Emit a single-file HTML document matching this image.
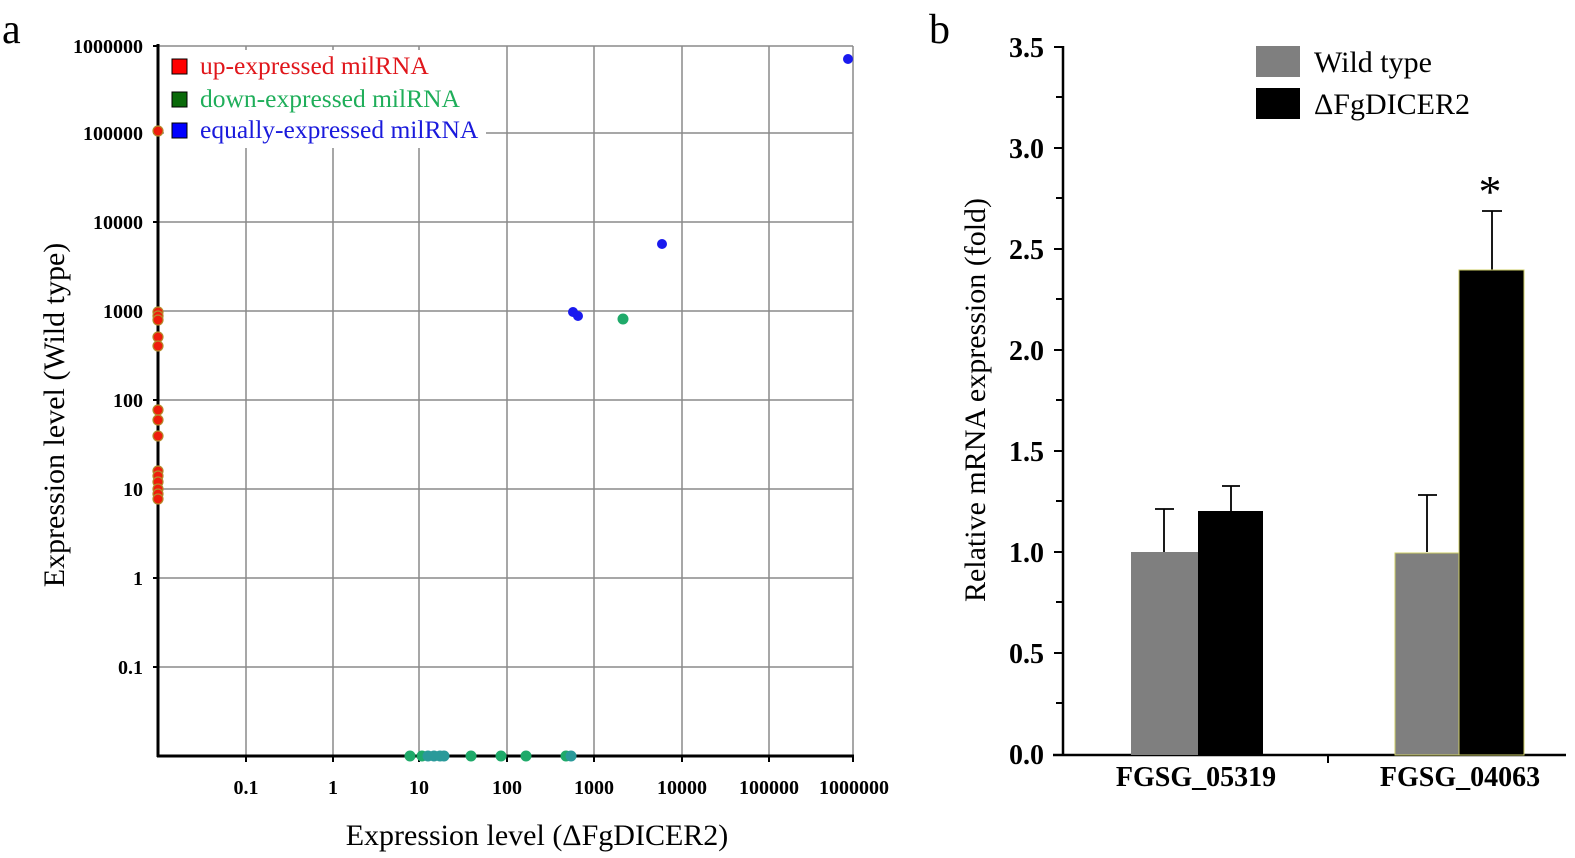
<!DOCTYPE html>
<html><head><meta charset="utf-8"><style>
html,body{margin:0;padding:0;background:#fff;}
svg{display:block;font-family:"Liberation Serif",serif;}
.tk{font-weight:bold;font-size:20px;fill:#000;}
.tkb{font-weight:bold;font-size:28px;fill:#000;}
</style></head><body>
<svg width="1575" height="858" viewBox="0 0 1575 858" xmlns="http://www.w3.org/2000/svg">
<text x="2" y="43" font-size="42">a</text>
<text x="929" y="43" font-size="42">b</text>
<g stroke="#8a8a8a" stroke-width="1.5">
<line x1="158" y1="46" x2="853" y2="46"/>
<line x1="158" y1="133" x2="853" y2="133"/>
<line x1="158" y1="222" x2="853" y2="222"/>
<line x1="158" y1="311" x2="853" y2="311"/>
<line x1="158" y1="400" x2="853" y2="400"/>
<line x1="158" y1="489" x2="853" y2="489"/>
<line x1="158" y1="578" x2="853" y2="578"/>
<line x1="158" y1="667" x2="853" y2="667"/>
<line x1="246" y1="46" x2="246" y2="756"/>
<line x1="333" y1="46" x2="333" y2="756"/>
<line x1="419" y1="46" x2="419" y2="756"/>
<line x1="507" y1="46" x2="507" y2="756"/>
<line x1="594" y1="46" x2="594" y2="756"/>
<line x1="682" y1="46" x2="682" y2="756"/>
<line x1="769" y1="46" x2="769" y2="756"/>
<line x1="853" y1="46" x2="853" y2="756"/>
</g>
<rect x="164" y="50" width="322" height="98" fill="#fff"/>
<g stroke="#000" stroke-width="3">
<line x1="158" y1="44" x2="158" y2="757"/>
<line x1="157" y1="756" x2="854" y2="756"/>
</g>
<g stroke="#000" stroke-width="2">
<line x1="153" y1="46" x2="158" y2="46"/><line x1="153" y1="133" x2="158" y2="133"/><line x1="153" y1="222" x2="158" y2="222"/><line x1="153" y1="311" x2="158" y2="311"/><line x1="153" y1="400" x2="158" y2="400"/><line x1="153" y1="489" x2="158" y2="489"/><line x1="153" y1="578" x2="158" y2="578"/><line x1="153" y1="667" x2="158" y2="667"/>
<line x1="246" y1="756" x2="246" y2="762"/><line x1="333" y1="756" x2="333" y2="762"/><line x1="419" y1="756" x2="419" y2="762"/><line x1="507" y1="756" x2="507" y2="762"/><line x1="594" y1="756" x2="594" y2="762"/><line x1="682" y1="756" x2="682" y2="762"/><line x1="769" y1="756" x2="769" y2="762"/><line x1="853" y1="756" x2="853" y2="762"/>
</g>
<g class="tk" text-anchor="end">
<text x="143" y="53">1000000</text><text x="143" y="140">100000</text><text x="143" y="229">10000</text><text x="143" y="318">1000</text><text x="143" y="407">100</text><text x="143" y="496">10</text><text x="143" y="585">1</text><text x="143" y="674">0.1</text>
</g>
<g class="tk" text-anchor="middle">
<text x="246" y="794">0.1</text><text x="333" y="794">1</text><text x="419" y="794">10</text><text x="507" y="794">100</text><text x="594" y="794">1000</text><text x="682" y="794">10000</text><text x="769" y="794">100000</text><text x="854" y="794">1000000</text>
</g>
<text x="537" y="845" font-size="30" text-anchor="middle">Expression level (ΔFgDICER2)</text>
<text transform="translate(64,415) rotate(-90)" font-size="30" text-anchor="middle">Expression level (Wild type)</text>
<rect x="172" y="59" width="15" height="15" fill="#f00" stroke="#000"/>
<rect x="172" y="92" width="15" height="15" fill="#0a6a0a" stroke="#000"/>
<rect x="172" y="123" width="15" height="15" fill="#00f" stroke="#000"/>
<text x="200" y="74" font-size="25.5" fill="#e0161b">up-expressed milRNA</text>
<text x="200" y="107" font-size="25.5" fill="#1fae5a">down-expressed milRNA</text>
<text x="200" y="138" font-size="25.5" fill="#1a1adc">equally-expressed milRNA</text>
<g fill="#ef1c0c" stroke="#b58a2a" stroke-width="1.2">
<circle cx="158" cy="131" r="5"/>
<circle cx="158" cy="312" r="5"/><circle cx="158" cy="316" r="5"/><circle cx="158" cy="320" r="5"/><circle cx="158" cy="337" r="5"/><circle cx="158" cy="346" r="5"/>
<circle cx="158" cy="410" r="5"/><circle cx="158" cy="420" r="5"/><circle cx="158" cy="436" r="5"/>
<circle cx="158" cy="471" r="5"/><circle cx="158" cy="476" r="5"/><circle cx="158" cy="482" r="5"/><circle cx="158" cy="489" r="5"/><circle cx="158" cy="494" r="5"/><circle cx="158" cy="499" r="5"/>
</g>
<g fill="#1a1aee">
<circle cx="848" cy="59" r="5"/><circle cx="662" cy="244" r="5"/><circle cx="573" cy="312" r="5"/><circle cx="578" cy="316" r="5"/>
</g>
<g fill="#1faa6a">
<circle cx="623" cy="319" r="5.5"/>
<circle cx="410" cy="756" r="5.5"/><circle cx="422" cy="756" r="5.5"/><circle cx="428" cy="756" r="5.5" fill="#2a9a9a"/><circle cx="434" cy="756" r="5.5" fill="#2a9a9a"/><circle cx="440" cy="756" r="5.5" fill="#2a9a9a"/><circle cx="444" cy="756" r="5.5" fill="#2a9a9a"/><circle cx="471" cy="756" r="5.5"/><circle cx="501" cy="756" r="5.5"/><circle cx="526" cy="756" r="5.5"/><circle cx="566" cy="756" r="5.5"/><circle cx="571" cy="756" r="5.5" fill="#2a9a9a"/>
</g>
<g stroke="#000" stroke-width="2.5">
<line x1="1063" y1="46" x2="1063" y2="756"/>
<line x1="1053" y1="755" x2="1566" y2="755"/>
</g>
<g stroke="#000" stroke-width="2">
<line x1="1054" y1="47" x2="1063" y2="47"/><line x1="1056" y1="97" x2="1063" y2="97"/><line x1="1054" y1="148" x2="1063" y2="148"/><line x1="1056" y1="198" x2="1063" y2="198"/><line x1="1054" y1="249" x2="1063" y2="249"/><line x1="1056" y1="299" x2="1063" y2="299"/><line x1="1054" y1="350" x2="1063" y2="350"/><line x1="1056" y1="400" x2="1063" y2="400"/><line x1="1054" y1="451" x2="1063" y2="451"/><line x1="1056" y1="501" x2="1063" y2="501"/><line x1="1054" y1="552" x2="1063" y2="552"/><line x1="1056" y1="602" x2="1063" y2="602"/><line x1="1054" y1="653" x2="1063" y2="653"/><line x1="1056" y1="703" x2="1063" y2="703"/>
<line x1="1328" y1="755" x2="1328" y2="763"/>
</g>
<g class="tkb" text-anchor="end" font-size="27">
<text x="1044" y="57">3.5</text><text x="1044" y="158">3.0</text><text x="1044" y="259">2.5</text><text x="1044" y="360">2.0</text><text x="1044" y="461">1.5</text><text x="1044" y="562">1.0</text><text x="1044" y="663">0.5</text><text x="1044" y="764">0.0</text>
</g>
<text transform="translate(985,400) rotate(-90)" font-size="30" text-anchor="middle">Relative mRNA expression (fold)</text>
<g stroke="#000" stroke-width="1.8">
<line x1="1164" y1="552" x2="1164" y2="509"/><line x1="1155" y1="509" x2="1174" y2="509"/>
<line x1="1231" y1="512" x2="1231" y2="486"/><line x1="1222" y1="486" x2="1240" y2="486"/>
<line x1="1427" y1="552" x2="1427" y2="495"/><line x1="1418" y1="495" x2="1437" y2="495"/>
<line x1="1492" y1="270" x2="1492" y2="211"/><line x1="1482" y1="211" x2="1502" y2="211"/>
</g>
<rect x="1131" y="552" width="67" height="203" fill="#7f7f7f"/>
<rect x="1198" y="511" width="65" height="244" fill="#000"/>
<rect x="1395" y="553" width="64" height="202" fill="#7f7f7f" stroke="#cccc66" stroke-width="1"/>
<rect x="1459" y="270" width="65" height="485" fill="#000" stroke="#cccc66" stroke-width="1"/>
<text x="1490" y="207" font-size="46" text-anchor="middle">*</text>
<g class="tkb" text-anchor="middle">
<text x="1196" y="786">FGSG_05319</text><text x="1460" y="786">FGSG_04063</text>
</g>
<rect x="1256" y="46" width="44" height="31" fill="#7f7f7f"/>
<rect x="1256" y="88" width="44" height="31" fill="#000"/>
<text x="1314" y="72" font-size="30">Wild type</text>
<text x="1314" y="114" font-size="30">ΔFgDICER2</text>
</svg>
</body></html>
